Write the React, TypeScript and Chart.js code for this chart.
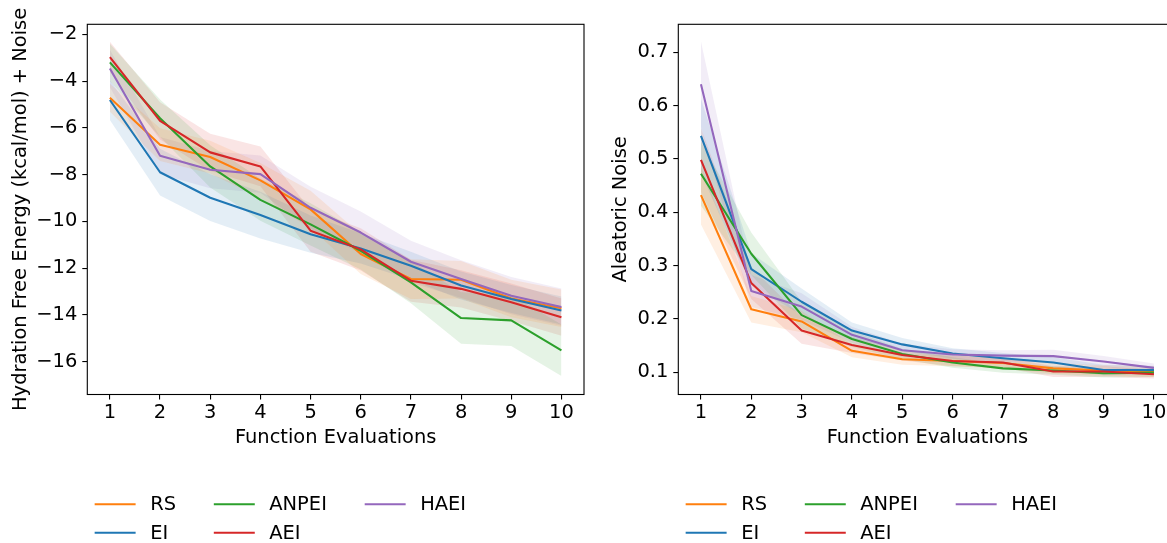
import React, { useEffect, useRef } from 'react';
import { Chart, registerables } from 'chart.js';

Chart.register(...registerables);

// ---------------- data ----------------
const evaluations = [1, 2, 3, 4, 5, 6, 7, 8, 9, 10];
const seriesNames = ['RS', 'EI', 'ANPEI', 'AEI', 'HAEI'];
const seriesColors = ['#ff7f0e', '#1f77b4', '#2ca02c', '#d62728', '#9467bd'];

// Left panel: Hydration Free Energy (kcal/mol) + Noise
const hfeRS = [-4.71, -6.72, -7.25, -8.25, -9.49, -11.4, -12.47, -12.5, -13.3, -13.72];
const hfeEI = [-4.81, -7.9, -8.99, -9.73, -10.55, -11.16, -11.9, -12.75, -13.32, -13.82];
const hfeANPEI = [-3.2, -5.59, -7.65, -9.08, -10.13, -11.26, -12.61, -14.14, -14.24, -15.52];
const hfeAEI = [-2.97, -5.7, -7.05, -7.65, -10.4, -11.2, -12.54, -12.89, -13.46, -14.1];
const hfeHAEI = [-3.46, -7.19, -7.79, -7.98, -9.42, -10.48, -11.73, -12.47, -13.18, -13.67];

const hfeRSStd = [0.6, 0.7, 0.7, 0.75, 0.8, 0.85, 0.85, 0.8, 0.8, 0.8];
const hfeEIStd = [0.85, 1.0, 1.0, 1.0, 0.8, 0.65, 0.6, 0.6, 0.6, 0.6];
const hfeANPEIStd = [0.8, 0.8, 0.9, 0.9, 0.9, 0.8, 0.9, 1.1, 1.1, 1.1];
const hfeAEIStd = [0.65, 0.8, 0.8, 0.85, 0.9, 0.9, 0.9, 0.8, 0.8, 0.8];
const hfeHAEIStd = [0.8, 0.8, 0.8, 0.8, 0.9, 0.9, 0.9, 0.8, 0.8, 0.8];

// Right panel: Aleatoric Noise
const noiseRS = [0.432, 0.218, 0.195, 0.14, 0.124, 0.121, 0.117, 0.107, 0.103, 0.101];
const noiseEI = [0.543, 0.293, 0.232, 0.178, 0.152, 0.135, 0.126, 0.118, 0.104, 0.104];
const noiseANPEI = [0.472, 0.322, 0.207, 0.162, 0.134, 0.118, 0.107, 0.103, 0.098, 0.099];
const noiseAEI = [0.498, 0.267, 0.178, 0.151, 0.132, 0.121, 0.118, 0.101, 0.101, 0.096];
const noiseHAEI = [0.64, 0.252, 0.223, 0.17, 0.141, 0.133, 0.131, 0.13, 0.12, 0.108];

const noiseRSStd = [0.055, 0.025, 0.02, 0.012, 0.01, 0.01, 0.01, 0.01, 0.01, 0.01];
const noiseEIStd = [0.07, 0.03, 0.025, 0.015, 0.012, 0.01, 0.01, 0.01, 0.01, 0.008];
const noiseANPEIStd = [0.06, 0.04, 0.025, 0.015, 0.01, 0.01, 0.008, 0.008, 0.008, 0.008];
const noiseAEIStd = [0.06, 0.03, 0.025, 0.015, 0.01, 0.01, 0.01, 0.01, 0.01, 0.008];
const noiseHAEIStd = [0.08, 0.03, 0.025, 0.015, 0.012, 0.01, 0.01, 0.012, 0.01, 0.008];

const xTicks = [1, 2, 3, 4, 5, 6, 7, 8, 9, 10];
const hfeYTicks = [-16, -14, -12, -10, -8, -6, -4, -2];
const noiseYTicks = [0.1, 0.2, 0.3, 0.4, 0.5, 0.6, 0.7];

const hfeTitle = 'Hydration Free Energy (kcal/mol) + Noise';
const noiseTitle = 'Aleatoric Noise';
const xTitle = 'Function Evaluations';

// ---------------- helpers ----------------
const FONT_FAMILY = '"DejaVu Sans", "Liberation Sans", sans-serif';
const FS = 19.44;

function hexToRgba(hex: string, a: number) {
  const n = parseInt(hex.slice(1), 16);
  return `rgba(${(n >> 16) & 255},${(n >> 8) & 255},${n & 255},${a})`;
}

const boxPlugin = {
  id: 'axesBox',
  afterDatasetsDraw(chart: any) {
    const { ctx, chartArea: a } = chart;
    ctx.save();
    ctx.strokeStyle = '#000';
    ctx.lineWidth = 1.1;
    ctx.strokeRect(a.left, a.top, a.right - a.left, a.bottom - a.top);
    ctx.restore();
  },
};

const legendPlugin = {
  id: 'gridLegend',
  afterDraw(chart: any) {
    const { ctx, chartArea: a } = chart;
    ctx.save();
    ctx.font = `${FS}px ${FONT_FAMILY}`;
    ctx.textBaseline = 'middle';
    ctx.textAlign = 'left';
    const handle = 2 * FS;
    const textPad = 0.8 * FS;
    const colSpacing = 2 * FS;
    const rowY = [a.bottom + 109.8, a.bottom + 138.2];
    const columns = [[0, 1], [2, 3], [4]];
    let x = a.left + 8.4;
    for (const col of columns) {
      let maxW = 0;
      col.forEach((idx, r) => {
        const y = rowY[r];
        ctx.strokeStyle = seriesColors[idx];
        ctx.lineWidth = 2.08;
        ctx.lineCap = 'square';
        ctx.beginPath();
        ctx.moveTo(x, y);
        ctx.lineTo(x + handle, y);
        ctx.stroke();
        ctx.fillStyle = '#000';
        ctx.fillText(seriesNames[idx], x + handle + textPad, y + 1);
        maxW = Math.max(maxW, ctx.measureText(seriesNames[idx]).width);
      });
      x += handle + textPad + maxW + colSpacing;
    }
    ctx.restore();
  },
};

function fmtTick(v: number, decimals: number) {
  return v.toFixed(decimals).replace('-', '\u2212');
}

interface PanelSpec {
  means: number[][];
  stds: number[][];
  yTicks: number[];
  yMin: number;
  yMax: number;
  yTitle: string;
  decimals: number;
  yAxisWidth: number;
  padRight: number;
}

function buildConfig(p: PanelSpec): any {
  const datasets: any[] = [];
  p.means.forEach((mean, i) => {
    const std = p.stds[i];
    datasets.push({
      data: evaluations.map((x, k) => ({ x, y: mean[k] + std[k] })),
      borderWidth: 0,
      borderColor: 'rgba(0,0,0,0)',
      backgroundColor: hexToRgba(seriesColors[i], 0.12),
      pointRadius: 0,
      fill: '+1',
      order: 10,
    });
    datasets.push({
      data: evaluations.map((x, k) => ({ x, y: mean[k] - std[k] })),
      borderWidth: 0,
      borderColor: 'rgba(0,0,0,0)',
      backgroundColor: 'rgba(0,0,0,0)',
      pointRadius: 0,
      fill: false,
      order: 10,
    });
  });
  p.means.forEach((mean, i) => {
    datasets.push({
      label: seriesNames[i],
      data: evaluations.map((x, k) => ({ x, y: mean[k] })),
      borderColor: seriesColors[i],
      borderWidth: 2.08,
      borderJoinStyle: 'round',
      pointRadius: 0,
      fill: false,
      tension: 0,
      order: 5 - i,
    });
  });

  const font = { family: FONT_FAMILY, size: FS };
  return {
    type: 'line',
    data: { datasets },
    plugins: [boxPlugin, legendPlugin],
    options: {
      animation: false,
      responsive: false,
      events: [],
      layout: { padding: { left: 0, top: 24.3, right: p.padRight, bottom: 93.3 } },
      plugins: { legend: { display: false }, tooltip: { enabled: false } },
      scales: {
        x: {
          type: 'linear',
          min: 0.55,
          max: 10.45,
          afterBuildTicks: (s: any) => {
            s.ticks = xTicks.map((v) => ({ value: v }));
          },
          afterFit: (s: any) => {
            s.height = 55.2;
          },
          grid: { drawOnChartArea: false, drawTicks: true, tickLength: 5, color: '#000', lineWidth: 1.1 },
          border: { display: false },
          ticks: {
            font,
            color: '#000',
            padding: 2,
            maxRotation: 0,
            autoSkip: false,
            callback: (v: any) => fmtTick(Number(v), 0),
          },
          title: { display: true, text: xTitle, font, color: '#000', padding: { top: 0, bottom: 0 } },
        },
        y: {
          type: 'linear',
          min: p.yMin,
          max: p.yMax,
          afterBuildTicks: (s: any) => {
            s.ticks = p.yTicks.map((v) => ({ value: v }));
          },
          afterFit: (s: any) => {
            s.width = p.yAxisWidth;
          },
          grid: { drawOnChartArea: false, drawTicks: true, tickLength: 5, color: '#000', lineWidth: 1.1 },
          border: { display: false },
          ticks: {
            font,
            color: '#000',
            padding: 5,
            autoSkip: false,
            callback: (v: any) => fmtTick(Number(v), p.decimals),
          },
          title: { display: true, text: p.yTitle, font, color: '#000', padding: { top: 9.6, bottom: 0 } },
        },
      },
    },
  };
}

const leftSpec: PanelSpec = {
  means: [hfeRS, hfeEI, hfeANPEI, hfeAEI, hfeHAEI],
  stds: [hfeRSStd, hfeEIStd, hfeANPEIStd, hfeAEIStd, hfeHAEIStd],
  yTicks: hfeYTicks,
  yMin: -17.41,
  yMax: -1.57,
  yTitle: hfeTitle,
  decimals: 0,
  yAxisWidth: 87.3,
  padRight: 16,
};

const rightSpec: PanelSpec = {
  means: [noiseRS, noiseEI, noiseANPEI, noiseAEI, noiseHAEI],
  stds: [noiseRSStd, noiseEIStd, noiseANPEIStd, noiseAEIStd, noiseHAEIStd],
  yTicks: noiseYTicks,
  yMin: 0.058,
  yMax: 0.7525,
  yTitle: noiseTitle,
  decimals: 1,
  yAxisWidth: 78.3,
  padRight: 23.4,
};

function Panel({ spec, left }: { spec: PanelSpec; left: number }) {
  const ref = useRef<HTMLCanvasElement | null>(null);
  useEffect(() => {
    if (!ref.current) return;
    const chart = new Chart(ref.current, buildConfig(spec));
    return () => chart.destroy();
  }, [spec]);
  return (
    <canvas
      ref={ref}
      width={600}
      height={543}
      style={{ position: 'absolute', left, top: 0, width: 600, height: 543 }}
    />
  );
}

export default function App() {
  return (
    <div
      style={{
        position: 'fixed',
        left: 0,
        top: 0,
        width: 1167,
        height: 543,
        overflow: 'hidden',
        background: '#fff',
      }}
    >
      <Panel spec={leftSpec} left={0} />
      <Panel spec={rightSpec} left={600} />
    </div>
  );
}
